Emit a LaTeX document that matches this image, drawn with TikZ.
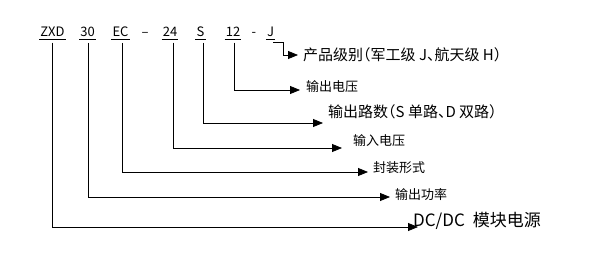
\documentclass[tikz,border=0pt]{standalone}
\usepackage{fontspec}
\setmainfont{Noto Sans CJK SC}
\newfontfamily\halfpunct[RawFeature={+halt}]{Noto Sans CJK SC}
\usetikzlibrary{arrows.meta}
\begin{document}
\begin{tikzpicture}[x = 1pt, y = -1pt,
    every node/.style = {font = \fontsize{13}{15}\selectfont},
    code/.style = {anchor = base, inner xsep = 1pt, inner ysep = 3.5pt},
    lead/.style = {line width = .8pt, -{Triangle[length = 10pt, width = 8pt]}},
    meaning/.style = {anchor = west, inner sep = 0pt},
    wide/.style = {font = \halfpunct\fontsize{15}{17}\selectfont}]
  \useasboundingbox (0,0) rectangle (597,255);
  % model code
  \node [code] (zxd) at (52.5,36) {ZXD};
  \node [code] (pwr) at (87.5,36) {30};
  \node [code] (pkg) at (120.5,36) {EC};
  \node [code] (dash1) at (145,36) {–};
  \node [code] (vin) at (170,36) {24};
  \node [code] (outs) at (200.5,36) {S};
  \node [code] (vout) at (233,36) {12};
  \node [code] (dash2) at (254,36) {-};
  \node [code] (grade) at (270.5,36) {J};
  \foreach \n in {zxd, pwr, pkg, vin, outs, vout, grade}
    \draw [line width = .8pt] (\n.south west) -- (\n.south east);
  % arrow ends
  \coordinate (tgrade) at (298,55);
  \coordinate (tvout) at (300,90);
  \coordinate (touts) at (323,123);
  \coordinate (tvin) at (342,148);
  \coordinate (tpkg) at (368,172);
  \coordinate (tpwr) at (390,197);
  \coordinate (tzxd) at (418,227);
  % leads
  \draw [lead] ([shift = {(-2,3)}]grade.south east) -- +(10,0) |- (tgrade);
  \draw [lead] ([shift = {(1,3)}]vout.south) |- (tvout);
  \draw [lead] ([shift = {(2.5,3)}]outs.south) |- (touts);
  \draw [lead] ([shift = {(3,3)}]vin.south) |- (tvin);
  \draw [lead] ([shift = {(1.5,3)}]pkg.south) |- (tpkg);
  \draw [lead] ([shift = {(.5,3)}]pwr.south) |- (tpwr);
  \draw [lead] ([shift = {(-.5,3)}]zxd.south) |- (tzxd);
  % meanings
  \node [meaning, wide] (ngrade) at (303,55) {产品级别（军工级 J、航天级 H）};
  \node [meaning] (nvout) at (306,87) {输出电压};
  \node [meaning, wide] (nouts) at (328,112) {输出路数（S 单路、D 双路）};
  \node [meaning] (nvin) at (353,141) {输入电压};
  \node [meaning] (npkg) at (373,168) {封装形式};
  \node [meaning] (npwr) at (395,195) {输出功率};
  \node [meaning, font = \fontsize{17}{19}\selectfont] (nzxd) at (413,221) {DC/DC\hspace{8pt}模块电源};
\end{tikzpicture}
\end{document}
